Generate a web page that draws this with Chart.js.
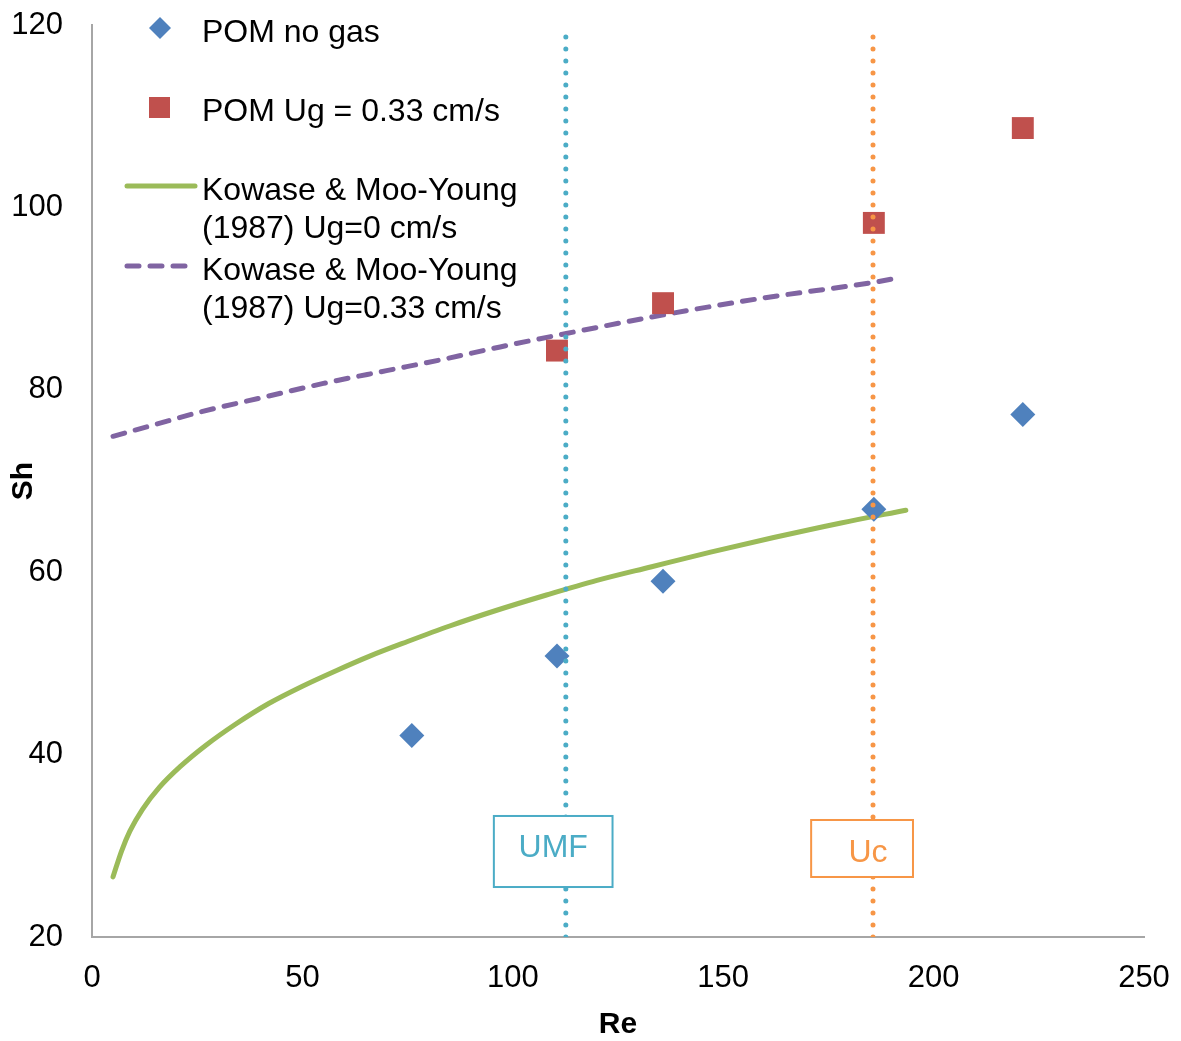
<!DOCTYPE html>
<html>
<head>
<meta charset="utf-8">
<script src="https://cdn.jsdelivr.net/npm/chart.js@4"></script>
<style>
html,body{margin:0;padding:0;background:#fff;}
#c{display:block;}
</style>
</head>
<body>
<canvas id="c" width="1181" height="1041"></canvas>
<script>
// ---- data ----
const reNoGas = [76.0, 110.5, 135.7, 185.8, 221.2];
const shNoGas = [42.1, 50.8, 59.0, 66.9, 77.3];
const reGas = [110.5, 135.7, 185.8, 221.2];
const shGas = [84.3, 89.5, 98.3, 108.7];
const reKM0 = [5, 7, 9, 12, 16, 21, 27, 34, 42, 50, 58, 66, 75, 85, 96, 108, 120, 133, 147, 162, 178, 193.4];
const shKM0 = [26.6, 29.4, 31.6, 34.0, 36.4, 38.7, 41.0, 43.3, 45.6, 47.5, 49.2, 50.8, 52.4, 54.1, 55.8, 57.5, 59.1, 60.6, 62.2, 63.8, 65.4, 66.8];
const reKM33 = [5, 15, 26, 40, 55, 70, 83, 97, 113, 138, 160, 186, 192];
const shKM33 = [74.9, 76.2, 77.6, 79.1, 80.7, 82.1, 83.3, 84.7, 86.2, 88.4, 90.1, 91.8, 92.3];
const reUMF = 112.6;
const reUc = 185.6;
const xTicks = [0, 50, 100, 150, 200, 250];
const yTicks = [20, 40, 60, 80, 100, 120];
const seriesNames = ['POM no gas', 'POM Ug = 0.33 cm/s', ['Kowase & Moo-Young', '(1987) Ug=0 cm/s'], ['Kowase & Moo-Young', '(1987) Ug=0.33 cm/s']];
const boxLabels = ['UMF', 'Uc'];

const C_BLUE = '#4F81BD', C_RED = '#C0504D', C_GREEN = '#9BBB59', C_PURPLE = '#8064A2', C_TEAL = '#4BACC6', C_ORANGE = '#F79646';
const FONT = '"Liberation Sans", Arial, sans-serif';

const pts = (xs, ys) => xs.map((x, i) => ({x, y: ys[i]}));
const yMin = yTicks[0], yMax = yTicks[yTicks.length - 1];

const overlay = {
  id: 'overlay',
  afterDraw(chart) {
    const ctx = chart.ctx, xs = chart.scales.x, ys = chart.scales.y;
    ctx.save();
    // annotation boxes (positions in data units)
    const boxes = [
      {x0: 95.5, x1: 123.7, y0: 33.27, y1: 25.48, tx: 109.6, ty: 29.98, color: C_TEAL, text: boxLabels[0]},
      {x0: 170.9, x1: 195.1, y0: 32.83, y1: 26.58, tx: 184.4, ty: 29.43, color: C_ORANGE, text: boxLabels[1]}
    ];
    boxes.forEach(b => {
      const l = xs.getPixelForValue(b.x0), r = xs.getPixelForValue(b.x1);
      const t = ys.getPixelForValue(b.y0), bt = ys.getPixelForValue(b.y1);
      ctx.fillStyle = '#fff';
      ctx.fillRect(l, t, r - l, bt - t);
      ctx.strokeStyle = b.color;
      ctx.lineWidth = 2;
      ctx.strokeRect(l, t, r - l, bt - t);
      ctx.fillStyle = b.color;
      ctx.font = '32px ' + FONT;
      ctx.textAlign = 'center';
      ctx.textBaseline = 'middle';
      ctx.fillText(b.text, xs.getPixelForValue(b.tx), ys.getPixelForValue(b.ty) + 2);
    });
    // legend
    ctx.fillStyle = '#000';
    ctx.font = '32px ' + FONT;
    ctx.textAlign = 'left';
    ctx.textBaseline = 'alphabetic';
    const tx = 202;
    // diamond
    ctx.fillStyle = C_BLUE;
    ctx.beginPath();
    ctx.moveTo(160, 17); ctx.lineTo(171, 28); ctx.lineTo(160, 39); ctx.lineTo(149, 28); ctx.closePath();
    ctx.fill();
    ctx.fillStyle = '#000';
    ctx.fillText(seriesNames[0], tx, 42);
    // square
    ctx.fillStyle = C_RED;
    ctx.fillRect(149, 97, 21, 21);
    ctx.fillStyle = '#000';
    ctx.fillText(seriesNames[1], tx, 121);
    // green line
    ctx.strokeStyle = C_GREEN; ctx.lineWidth = 5; ctx.lineCap = 'round';
    ctx.beginPath(); ctx.moveTo(127, 186); ctx.lineTo(195, 186); ctx.stroke();
    ctx.fillText(seriesNames[2][0], tx, 200);
    ctx.fillText(seriesNames[2][1], tx, 238);
    // purple dashed
    ctx.strokeStyle = C_PURPLE;
    ctx.setLineDash([12, 11]);
    ctx.beginPath(); ctx.moveTo(127, 266); ctx.lineTo(195, 266); ctx.stroke();
    ctx.setLineDash([]);
    ctx.fillText(seriesNames[3][0], tx, 280);
    ctx.fillText(seriesNames[3][1], tx, 318);
    ctx.restore();
  }
};

new Chart(document.getElementById('c'), {
  type: 'scatter',
  data: {
    datasets: [
      {label: 'UMF', data: [{x: reUMF, y: yMin}, {x: reUMF, y: yMax}], showLine: true, borderColor: C_TEAL, borderWidth: 5, borderDash: [0, 12], borderCapStyle: 'round', pointRadius: 0},
      {label: 'Uc', data: [{x: reUc, y: yMin}, {x: reUc, y: yMax}], showLine: true, borderColor: C_ORANGE, borderWidth: 5, borderDash: [0, 12], borderCapStyle: 'round', pointRadius: 0},
      {label: seriesNames[0], data: pts(reNoGas, shNoGas), pointStyle: 'rectRot', pointRadius: 12.5, backgroundColor: C_BLUE, borderWidth: 0, showLine: false},
      {label: seriesNames[1], data: pts(reGas, shGas), pointStyle: 'rect', pointRadius: 15.5, backgroundColor: C_RED, borderWidth: 0, showLine: false},
      {label: 'KM0', data: pts(reKM0, shKM0), showLine: true, borderColor: C_GREEN, borderWidth: 5, borderCapStyle: 'round', pointRadius: 0, cubicInterpolationMode: 'monotone'},
      {label: 'KM33', data: pts(reKM33, shKM33), showLine: true, borderColor: C_PURPLE, borderWidth: 5, borderDash: [12, 11], borderCapStyle: 'round', pointRadius: 0, cubicInterpolationMode: 'monotone'}
    ]
  },
  options: {
    responsive: false,
    devicePixelRatio: 1,
    animation: false,
    layout: {padding: {top: 25, right: 37, left: 0, bottom: 0}},
    plugins: {legend: {display: false}, tooltip: {enabled: false}},
    scales: {
      x: {
        type: 'linear', min: xTicks[0], max: xTicks[xTicks.length - 1],
        afterBuildTicks: s => { s.ticks = xTicks.map(v => ({value: v})); },
        afterFit: s => { s.height = 104; s.paddingLeft = 0; s.paddingRight = 0; },
        grid: {display: false, drawTicks: false},
        border: {display: true, color: '#A6A6A6', width: 2},
        ticks: {padding: 23, color: '#000', font: {family: FONT, size: 31}, maxRotation: 0},
        title: {display: true, text: 'Re', color: '#000', font: {family: FONT, size: 30, weight: 'bold', lineHeight: 1.1}, padding: {top: 0, bottom: 0}}
      },
      y: {
        type: 'linear', min: yMin, max: yMax,
        afterBuildTicks: s => { s.ticks = yTicks.map(v => ({value: v})); },
        afterFit: s => { s.width = 92; s.paddingTop = 0; s.paddingBottom = 0; },
        grid: {display: false, drawTicks: false},
        border: {display: true, color: '#A6A6A6', width: 2},
        ticks: {padding: 29, color: '#000', font: {family: FONT, size: 31}},
        title: {display: true, text: 'Sh', color: '#000', font: {family: FONT, size: 30, weight: 'bold', lineHeight: 1.1}, padding: {top: 7, bottom: 0}}
      }
    }
  },
  plugins: [overlay]
});
</script>
</body>
</html>
